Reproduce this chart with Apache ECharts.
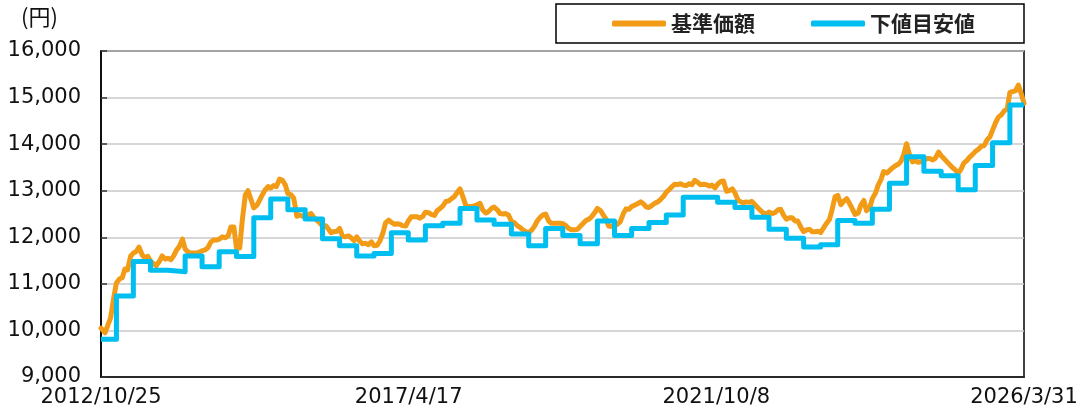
<!DOCTYPE html>
<html>
<head>
<meta charset="utf-8">
<script src="https://cdn.jsdelivr.net/npm/echarts@6/dist/echarts.min.js"></script>
<style>
html, body { margin: 0; padding: 0; background: #fff; }
#main { width: 1085px; height: 415px; }
</style>
</head>
<body>
<div id="main"></div>
<script>
// 基準価額: 設定日と最終日
var baseFirst = ['2012-10-25', 10050];
var baseLast = ['2026-03-31', 14880];
// 毎月1日の値 (2012年11月から2026年3月まで)
var baseDay1 = [
    10020, 10120, 10710, 11110, 11320, 11600, 11700, 11620, 11590, 11430, 11490, 11530,
    11520, 11730, 11960, 11680, 11660, 11680, 11730, 11900, 11940, 12010, 12030, 12220,
    11770, 12910, 12800, 12690, 12910, 13090, 13110, 13250, 13130, 12910, 12450, 12450,
    12480, 12420, 12310, 12250, 12100, 12130, 12020, 12030, 11930, 11910, 11870, 11900,
    11830, 12090, 12370, 12280, 12280, 12240, 12440, 12440, 12450, 12530, 12470, 12620,
    12770, 12830, 12970, 12850, 12660, 12670, 12730, 12520, 12620, 12590, 12500, 12470,
    12310, 12210, 12120, 12160, 12350, 12480, 12350, 12300, 12300, 12250, 12160, 12170,
    12300, 12390, 12530, 12570, 12390, 12230, 12280, 12510, 12600, 12690, 12760, 12650,
    12690, 12760, 12880, 13030, 13140, 13150, 13110, 13130, 13180, 13140, 13100, 13060,
    13200, 12990, 13040, 12790, 12740, 12750, 12700, 12570, 12500, 12510, 12590, 12470,
    12420, 12350, 12210, 12160, 12120, 12130, 12200, 12380, 12870, 12700, 12830, 12610,
    12520, 12790, 12630, 12950, 13240, 13380, 13490, 13570, 13790, 13750, 13640, 13620,
    13690, 13660, 13830, 13680, 13560, 13440, 13470, 13650, 13780, 13890, 13970, 14160,
    14470, 14630, 14760, 15130, 15270
];
// 毎月15日の値 (2012年11月から2026年3月まで)
var baseDay15 = [
    9950, 10270, 11020, 11130, 11300, 11660, 11790, 11560, 11490, 11390, 11600, 11550,
    11600, 11800, 11750, 11660, 11660, 11710, 11770, 11940, 11960, 11990, 12220, 11770,
    12370, 13000, 12630, 12800, 13010, 13060, 13090, 13230, 12940, 12840, 12480, 12460,
    12510, 12370, 12240, 12180, 12120, 12190, 12010, 11990, 12010, 11860, 11840, 11820,
    11920, 12310, 12320, 12290, 12250, 12350, 12440, 12410, 12540, 12490, 12570, 12670,
    12780, 12870, 13040, 12680, 12660, 12700, 12590, 12550, 12650, 12510, 12510, 12340,
    12250, 12160, 12090, 12240, 12420, 12500, 12300, 12300, 12290, 12190, 12160, 12230,
    12360, 12440, 12620, 12480, 12240, 12240, 12330, 12610, 12660, 12720, 12720, 12640,
    12730, 12810, 12970, 13090, 13130, 13120, 13150, 13220, 13130, 13130, 13120, 13140,
    13210, 13000, 12950, 12760, 12760, 12770, 12640, 12520, 12540, 12530, 12600, 12390,
    12420, 12350, 12120, 12170, 12120, 12100, 12290, 12590, 12900, 12770, 12730, 12490,
    12690, 12570, 12830, 13120, 13410, 13430, 13530, 13630, 14010, 13620, 13610, 13650,
    13690, 13700, 13750, 13620, 13500, 13370, 13590, 13720, 13840, 13950, 14090, 14300,
    14580, 14710, 15110, 15150, 15100
];

// 下値目安値: 見直し日と値
var floorDates = [
    '2012-10-25', '2013-01-15', '2013-04-15', '2013-07-15', '2013-10-15',
    '2014-01-15', '2014-04-15', '2014-07-15', '2014-10-15',
    '2015-01-15', '2015-04-15', '2015-07-15', '2015-10-15',
    '2016-01-15', '2016-04-15', '2016-07-15', '2016-10-15',
    '2017-01-15', '2017-04-15', '2017-07-15', '2017-10-15',
    '2018-01-15', '2018-04-15', '2018-07-15', '2018-10-15',
    '2019-01-15', '2019-04-15', '2019-07-15', '2019-10-15',
    '2020-01-15', '2020-04-15', '2020-07-15', '2020-10-15',
    '2021-01-15', '2021-04-15', '2021-10-15',
    '2022-01-15', '2022-04-15', '2022-07-15', '2022-10-15',
    '2023-01-15', '2023-04-15', '2023-07-15', '2023-10-15',
    '2024-01-15', '2024-04-15', '2024-07-15', '2024-10-15',
    '2025-01-15', '2025-04-15', '2025-07-15', '2025-10-15',
    '2026-01-15', '2026-03-31'
];
var floorValues = [
    9810, 10740, 11480, 11290, 11260,
    11600, 11370, 11690, 11590,
    12420, 12820, 12590, 12390,
    11970, 11820, 11600, 11650,
    12100, 11940, 12250, 12300,
    12620, 12370, 12280, 12070,
    11820, 12190, 12040, 11860,
    12350, 12040, 12190, 12320,
    12480, 12860, 12750,
    12640, 12430, 12170, 11980,
    11790, 11840, 12360, 12300,
    12600, 13160, 13730, 13420,
    13320, 13020, 13540, 14030,
    14840, 14840
];

var xLabelDays = 1635; // 目盛り間隔(日)

function toTime(s) {
    return Date.parse(s);
}

var baseData = [[toTime(baseFirst[0]), baseFirst[1]]];
for (var i = 0; i < baseDay15.length; i++) {
    var y = 2012 + Math.floor((10 + i) / 12);
    var m = (10 + i) % 12;
    baseData.push([Date.UTC(y, m, 1), baseDay1[i]]);
    baseData.push([Date.UTC(y, m, 15), baseDay15[i]]);
}
baseData.push([toTime(baseLast[0]), baseLast[1]]);

var floorData = floorDates.map(function (d, i) {
    return [toTime(d), floorValues[i]];
});

var font = '"DejaVu Sans", "Noto Sans CJK JP", sans-serif';

var option = {
    animation: false,
    backgroundColor: '#fff',
    grid: {
        left: 101,
        right: 61,
        top: 51,
        bottom: 38,
        show: true,
        borderColor: '#000',
        borderWidth: 1.5
    },
    legend: {
        data: ['基準価額', '下値目安値'],
        right: 61,
        top: 4,
        padding: [9, 49, 9, 56],
        itemGap: 56,
        itemWidth: 54,
        itemHeight: 6,
        icon: 'roundRect',
        borderColor: '#000',
        borderWidth: 1.5,
        textStyle: {
            fontSize: 21,
            fontWeight: 'bold',
            color: '#222',
            fontFamily: '"Noto Sans CJK JP", sans-serif'
        }
    },
    graphic: [{
        type: 'text',
        left: 21,
        top: 6,
        style: {
            text: '(円)',
            fontSize: 22,
            fill: '#111',
            fontFamily: '"Noto Sans CJK JP", sans-serif'
        }
    }],
    xAxis: {
        type: 'value',
        min: toTime(floorDates[0]),
        max: toTime(baseLast[0]),
        interval: xLabelDays * 86400000,
        axisLine: { show: true, lineStyle: { color: '#000', width: 1.5 } },
        axisTick: { show: false },
        splitLine: { show: false },
        axisLabel: {
            fontSize: 21,
            color: '#111',
            fontFamily: font,
            margin: 10,
            formatter: function (v) {
                var d = new Date(v);
                return d.getUTCFullYear() + '/' + (d.getUTCMonth() + 1) + '/' + d.getUTCDate();
            }
        }
    },
    yAxis: {
        type: 'value',
        min: 9000,
        max: 16000,
        interval: 1000,
        axisLine: { show: true, lineStyle: { color: '#000', width: 1.5 } },
        axisTick: { show: true, inside: true, length: 6, lineStyle: { color: '#333', width: 1.5 } },
        splitLine: { lineStyle: { color: '#c8c8c8', width: 1.5 } },
        axisLabel: {
            fontSize: 21,
            color: '#111',
            fontFamily: font,
            margin: 20,
            formatter: function (v) {
                return v.toLocaleString('en-US');
            }
        }
    },
    series: [
        {
            name: '基準価額',
            type: 'line',
            data: baseData,
            showSymbol: false,
            color: '#F29B16',
            lineStyle: { width: 5, color: '#F29B16', join: 'round', cap: 'round' },
            z: 2
        },
        {
            name: '下値目安値',
            type: 'line',
            step: 'end',
            data: floorData,
            showSymbol: false,
            color: '#00BEF0',
            lineStyle: { width: 5, color: '#00BEF0', join: 'round' },
            z: 3
        }
    ]
};

var chart = echarts.init(document.getElementById('main'), null, { renderer: 'canvas' });
chart.setOption(option);
</script>
</body>
</html>
